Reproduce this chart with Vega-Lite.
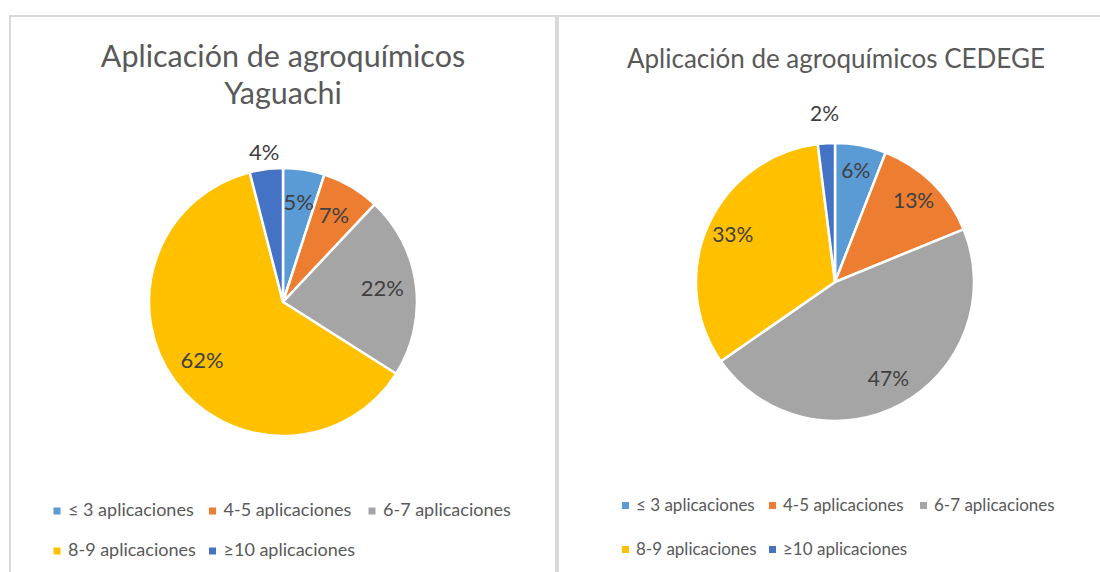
{
  "$schema": "https://vega.github.io/schema/vega-lite/v6.json",
  "background": "white",
  "padding": {"left": 8, "top": 14, "right": 0, "bottom": 0},
  "spacing": -4,
  "config": {
    "view": {"stroke": "#d9d9d9", "strokeWidth": 2},
    "font": "Lato"
  },
  "datasets": {
    "yaguachi": [
      {"cat": "≤ 3 aplicaciones", "idx": 1, "pct": 0.05},
      {"cat": "4-5 aplicaciones", "idx": 2, "pct": 0.07},
      {"cat": "6-7 aplicaciones", "idx": 3, "pct": 0.22},
      {"cat": "8-9 aplicaciones", "idx": 4, "pct": 0.62},
      {"cat": "≥10 aplicaciones", "idx": 5, "pct": 0.04}
    ],
    "cedege": [
      {"cat": "≤ 3 aplicaciones", "idx": 1, "pct": 0.06},
      {"cat": "4-5 aplicaciones", "idx": 2, "pct": 0.13},
      {"cat": "6-7 aplicaciones", "idx": 3, "pct": 0.47},
      {"cat": "8-9 aplicaciones", "idx": 4, "pct": 0.33},
      {"cat": "≥10 aplicaciones", "idx": 5, "pct": 0.02}
    ]
  },
  "hconcat": [
    {
      "width": 546,
      "height": 572,
      "view": {"stroke": "#d9d9d9", "strokeWidth": 2},
      "data": {"name": "yaguachi"},
      "title": {
        "text": ["Aplicación de agroquímicos", "Yaguachi"],
        "font": "Lato", "fontSize": 30.5, "fontWeight": "normal", "color": "#595959",
        "anchor": "middle", "offset": -95, "lineHeight": 37
      },
      "encoding": {
        "theta": {"field": "pct", "type": "quantitative", "stack": true},
        "order": {"field": "idx", "type": "quantitative"}
      },
      "layer": [
        {
          "mark": {"type": "rect", "fill": null, "stroke": "#d9d9d9", "strokeWidth": 2},
          "encoding": {}
        },
        {
          "mark": {"type": "arc", "outerRadius": 134, "stroke": "white", "strokeWidth": 2.5},
          "encoding": {
            "color": {
              "field": "cat", "type": "nominal",
              "scale": {
                "domain": ["≤ 3 aplicaciones", "4-5 aplicaciones", "6-7 aplicaciones", "8-9 aplicaciones", "≥10 aplicaciones"],
                "range": ["#5B9BD5", "#ED7D31", "#A5A5A5", "#FFC000", "#4472C4"]
              },
              "legend": {
                "title": null, "orient": "none", "legendX": 38, "legendY": 486,
                "columns": 3, "direction": "horizontal", "gridAlign": "none",
                "symbolType": "square", "symbolSize": 49, "symbolStrokeWidth": 0,
                "labelFont": "Lato", "labelFontSize": 18, "labelColor": "#595959",
                "labelOffset": 2, "columnPadding": 7.5, "rowPadding": 22, "padding": 0
              }
            }
          }
        },
        {
          "mark": {"type": "text", "radius": 100, "fontSize": 22, "color": "#404040", "font": "Lato"},
          "encoding": {
            "detail": {"field": "cat", "type": "nominal"},
            "text": {"field": "pct", "type": "quantitative", "format": ".0%"},
            "opacity": {"condition": {"test": "datum.pct >= 0.05", "value": 1}, "value": 0}
          }
        },
        {
          "mark": {"type": "text", "radius": 150, "fontSize": 22, "color": "#404040", "font": "Lato"},
          "encoding": {
            "detail": {"field": "cat", "type": "nominal"},
            "text": {"field": "pct", "type": "quantitative", "format": ".0%"},
            "opacity": {"condition": {"test": "datum.pct < 0.05", "value": 1}, "value": 0}
          }
        }
      ]
    },
    {
      "width": 548,
      "height": 572,
      "view": {"stroke": "#d9d9d9", "strokeWidth": 2},
      "data": {"name": "cedege"},
      "title": {
        "text": "Aplicación de agroquímicos CEDEGE",
        "font": "Lato", "fontSize": 26, "fontWeight": "normal", "color": "#595959",
        "anchor": "middle", "offset": -58, "dx": 4
      },
      "encoding": {
        "theta": {"field": "pct", "type": "quantitative", "stack": true},
        "order": {"field": "idx", "type": "quantitative"}
      },
      "layer": [
        {
          "mark": {"type": "rect", "fill": null, "stroke": "#d9d9d9", "strokeWidth": 2},
          "encoding": {}
        },
        {
          "mark": {"type": "arc", "outerRadius": 139, "stroke": "white", "strokeWidth": 2.5, "xOffset": 3, "yOffset": -20},
          "encoding": {
            "color": {
              "field": "cat", "type": "nominal",
              "scale": {
                "domain": ["≤ 3 aplicaciones", "4-5 aplicaciones", "6-7 aplicaciones", "8-9 aplicaciones", "≥10 aplicaciones"],
                "range": ["#5B9BD5", "#ED7D31", "#A5A5A5", "#FFC000", "#4472C4"]
              },
              "legend": {
                "title": null, "orient": "none", "legendX": 59, "legendY": 481,
                "columns": 3, "direction": "horizontal", "gridAlign": "none",
                "symbolType": "square", "symbolSize": 49, "symbolStrokeWidth": 0,
                "labelFont": "Lato", "labelFontSize": 17, "labelColor": "#595959",
                "labelOffset": 2, "columnPadding": 7, "rowPadding": 26, "padding": 0
              }
            }
          }
        },
        {
          "mark": {"type": "text", "radius": 112, "fontSize": 21, "color": "#404040", "font": "Lato", "xOffset": 3, "yOffset": -20},
          "encoding": {
            "detail": {"field": "cat", "type": "nominal"},
            "text": {"field": "pct", "type": "quantitative", "format": ".0%"},
            "opacity": {"condition": {"test": "datum.pct >= 0.05", "value": 1}, "value": 0}
          }
        },
        {
          "mark": {"type": "text", "radius": 167, "fontSize": 21, "color": "#404040", "font": "Lato", "xOffset": 3, "yOffset": -20},
          "encoding": {
            "detail": {"field": "cat", "type": "nominal"},
            "text": {"field": "pct", "type": "quantitative", "format": ".0%"},
            "opacity": {"condition": {"test": "datum.pct < 0.05", "value": 1}, "value": 0}
          }
        }
      ]
    }
  ],
  "resolve": {"scale": {"color": "independent", "theta": "independent"}, "legend": {"color": "independent"}}
}
